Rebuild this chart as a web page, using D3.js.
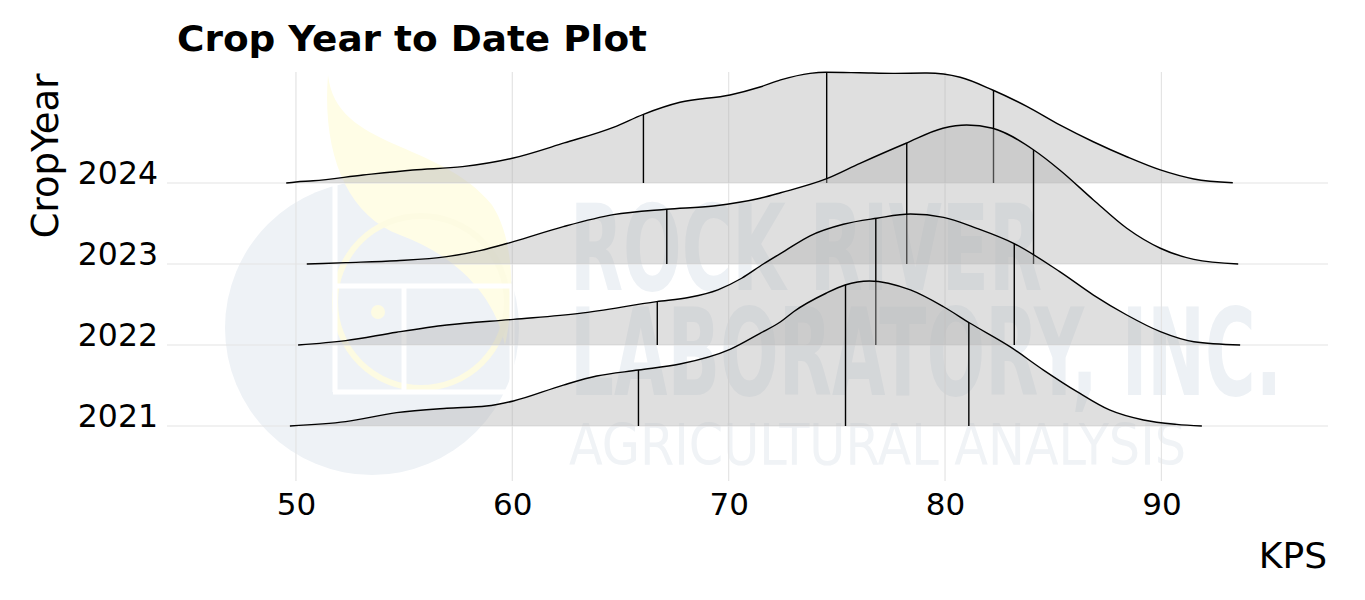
<!DOCTYPE html>
<html>
<head>
<meta charset="utf-8">
<script src="https://cdn.jsdelivr.net/npm/d3@7"></script>
<style>
  html, body { margin: 0; padding: 0; background: #ffffff; }
  svg { display: block; }
</style>
</head>
<body>
<svg id="chart" width="1365" height="600"></svg>
<script>
// ---------------- DATA ----------------
const years = ["2021", "2022", "2023", "2024"];
const xTicks = [50, 60, 70, 80, 90];

// density curves: [KPS, density]
const density2024 = [[49.55,0],[50.0,0.0007],[50.8,0.0015],[53.1,0.0053],[55.4,0.0087],[57.7,0.0109],[60.0,0.0165],[62.4,0.0267],[64.7,0.0373],[66.06,0.0458],[67.75,0.0538],[70.06,0.0587],[71.45,0.064],[72.4,0.0687],[73.76,0.0731],[74.5,0.0738],[76.07,0.0735],[77.6,0.0731],[79.16,0.0733],[80.7,0.0705],[82.2,0.062],[83.8,0.0509],[85.3,0.0387],[86.85,0.0275],[88.4,0.0175],[89.95,0.0087],[91.5,0.0027],[93.3,0.0002]];
const density2023 = [[50.5,0],[52.3,0.0009],[54.65,0.0022],[56.97,0.0049],[58.5,0.0089],[60.05,0.0149],[62.36,0.0249],[64.67,0.0329],[67.13,0.0365],[69.3,0.0387],[71.45,0.0438],[72.4,0.0475],[74.5,0.0567],[76.07,0.0671],[78.2,0.0805],[79.9,0.0905],[81.0,0.0927],[82.2,0.0905],[84.1,0.076],[85.3,0.0627],[86.86,0.0427],[88.4,0.0238],[89.95,0.0105],[91.5,0.0031],[93.55,0]];
const density2022 = [[50.1,0],[52.3,0.0029],[54.65,0.0085],[56.97,0.0133],[60.05,0.0171],[63.1,0.0211],[66.67,0.0289],[68.2,0.0318],[69.5,0.0368],[70.6,0.0445],[71.6,0.054],[72.6,0.0628],[73.76,0.0728],[75.3,0.0805],[76.85,0.0845],[78.4,0.0873],[79.93,0.0851],[81.47,0.0778],[83.17,0.0678],[85.3,0.0489],[86.86,0.0333],[88.4,0.02],[89.95,0.0089],[91.5,0.0022],[93.64,0]];
const density2021 = [[49.72,0],[52.3,0.0029],[54.65,0.0089],[56.97,0.0118],[58.8,0.0133],[60.05,0.0167],[62.36,0.0273],[63.9,0.0333],[65.83,0.0373],[67.75,0.0413],[70.06,0.0511],[71.45,0.0618],[72.4,0.0695],[73.0,0.0762],[74.5,0.0885],[75.38,0.094],[76.5,0.0967],[78.4,0.0907],[79.93,0.0795],[81.16,0.0685],[83.0,0.0529],[84.55,0.0373],[86.1,0.0229],[87.6,0.0107],[89.17,0.004],[90.7,0.0011],[91.87,0]];

// quartile lines (25%, 50%, 75%)
const quant2024 = [66.06, 74.53, 82.24];
const quant2023 = [67.14, 78.23, 84.09];
const quant2022 = [66.7, 76.8, 83.2];
const quant2021 = [65.83, 75.4, 81.1];

const series = {
  "2021": { dens: density2021, q: quant2021 },
  "2022": { dens: density2022, q: quant2022 },
  "2023": { dens: density2023, q: quant2023 },
  "2024": { dens: density2024, q: quant2024 }
};

// ---------------- LAYOUT ----------------
const svg = d3.select("#chart");
const panelLeft = 167, panelRight = 1328, panelTop = 72, panelBottom = 481;

const x = d3.scaleLinear().domain([44.04, 97.7]).range([panelLeft, panelRight]);
const yBand = d3.scalePoint().domain(years).range([426, 183]);
const h = d3.scaleLinear().domain([0, 0.1]).range([0, 150]);

const font = "'DejaVu Sans', 'Liberation Sans', sans-serif";

// ---------------- WATERMARK ----------------
const wm = svg.append("g").attr("class", "watermark");
wm.append("circle").attr("cx", 372).attr("cy", 328).attr("r", 147).attr("fill", "#eef2f6");
wm.append("path")
  .attr("d", "M328,75 C336,150 440,140 492,205 C515,240 515,300 505,345 C495,295 455,255 400,235 C345,215 322,150 328,75 Z")
  .attr("fill", "#fffde6");
wm.append("circle").attr("cx", 421).attr("cy", 302).attr("r", 86)
  .attr("fill", "none").attr("stroke", "#fdfbe2").attr("stroke-width", 6);
const frame = wm.append("g").attr("stroke", "#ffffff").attr("stroke-width", 5).attr("fill", "none");
frame.append("line").attr("x1", 335).attr("y1", 185).attr("x2", 335).attr("y2", 392);
frame.append("line").attr("x1", 333).attr("y1", 286).attr("x2", 512).attr("y2", 286);
frame.append("line").attr("x1", 333).attr("y1", 392).attr("x2", 513).attr("y2", 392);
frame.append("line").attr("x1", 404).attr("y1", 286).attr("x2", 404).attr("y2", 392);
frame.append("line").attr("x1", 512).attr("y1", 286).attr("x2", 512).attr("y2", 392);
wm.append("circle").attr("cx", 378).attr("cy", 312).attr("r", 7).attr("fill", "#fdfbe2");

const wmFont = "'DejaVu Sans Condensed', 'DejaVu Sans', sans-serif";
wm.append("text").text("ROCK RIVER")
  .attr("x", 570).attr("y", 290).attr("textLength", 472).attr("lengthAdjust", "spacingAndGlyphs")
  .attr("font-family", wmFont).attr("font-weight", "bold").attr("font-size", 120).attr("fill", "#edf1f5");
wm.append("text").text("LABORATORY, INC.")
  .attr("x", 570).attr("y", 395).attr("textLength", 712).attr("lengthAdjust", "spacingAndGlyphs")
  .attr("font-family", wmFont).attr("font-weight", "bold").attr("font-size", 121).attr("fill", "#edf1f5");
wm.append("text").text("AGRICULTURAL ANALYSIS")
  .attr("x", 569).attr("y", 465).attr("textLength", 617).attr("lengthAdjust", "spacingAndGlyphs")
  .attr("font-family", wmFont).attr("font-weight", "normal").attr("font-size", 57).attr("fill", "#f0f3f6");

// ---------------- GRID ----------------
const grid = svg.append("g").attr("class", "grid");
grid.selectAll("line.v").data(xTicks).join("line")
  .attr("class", "v")
  .attr("x1", d => x(d)).attr("x2", d => x(d))
  .attr("y1", panelTop).attr("y2", panelBottom)
  .attr("stroke", "#e4e4e4").attr("stroke-width", 1.2);
grid.selectAll("line.h").data(years).join("line")
  .attr("class", "h")
  .attr("x1", panelLeft).attr("x2", panelRight)
  .attr("y1", d => yBand(d)).attr("y2", d => yBand(d))
  .attr("stroke", "#e4e4e4").attr("stroke-width", 1.2);

// ---------------- RIDGES ----------------
const curve = d3.curveMonotoneX;
const ridges = svg.append("g").attr("class", "ridges");
const drawOrder = years.slice().reverse(); // top (2024) first, lower ridges drawn over
const defs = svg.append("defs");

drawOrder.forEach(yr => {
  const s = series[yr];
  const base = yBand(yr);
  const area = d3.area().curve(curve)
    .x(d => x(d[0])).y0(base).y1(d => base - h(d[1]));
  const line = d3.line().curve(curve)
    .x(d => x(d[0])).y(d => base - h(d[1]));

  const clipId = "clip" + yr;
  defs.append("clipPath").attr("id", clipId)
    .append("path").attr("d", area(s.dens));

  const g = ridges.append("g");
  g.append("path").attr("d", area(s.dens))
    .attr("fill", "#b3b3b3").attr("fill-opacity", 0.42).attr("stroke", "none");
  g.append("g").attr("clip-path", `url(#${clipId})`)
    .selectAll("line").data(s.q).join("line")
    .attr("x1", d => x(d)).attr("x2", d => x(d))
    .attr("y1", base).attr("y2", base - 200)
    .attr("stroke", "#000").attr("stroke-width", 1.4);
  g.append("path").attr("d", line(s.dens))
    .attr("fill", "none").attr("stroke", "#000").attr("stroke-width", 1.4);
});

// ---------------- AXES TEXT ----------------
const xAxis = d3.axisBottom(x).tickValues(xTicks).tickSize(0).tickPadding(0);
const xg = svg.append("g").attr("transform", "translate(0,515)").call(xAxis);
xg.select(".domain").remove();
xg.selectAll("text").attr("font-family", font).attr("font-size", 31).attr("fill", "#000")
  .attr("dy", 0).attr("dominant-baseline", "auto");

const yAxis = d3.axisLeft(yBand).tickSize(0).tickPadding(0);
const yg = svg.append("g").attr("transform", "translate(158,0)").call(yAxis);
yg.select(".domain").remove();
yg.selectAll("text").attr("font-family", font).attr("font-size", 31.5).attr("fill", "#000")
  .attr("dy", 0).attr("x", 0).attr("text-anchor", "end");

// titles
svg.append("text").text("Crop Year to Date Plot")
  .attr("x", 177).attr("y", 51).attr("textLength", 470).attr("lengthAdjust", "spacingAndGlyphs")
  .attr("font-family", font).attr("font-weight", "bold").attr("font-size", 36).attr("fill", "#000");
svg.append("text").text("CropYear")
  .attr("transform", "translate(58,156) rotate(-90)")
  .attr("text-anchor", "middle")
  .attr("font-family", font).attr("font-size", 37).attr("fill", "#000");
svg.append("text").text("KPS")
  .attr("x", 1327).attr("y", 568).attr("text-anchor", "end")
  .attr("font-family", font).attr("font-size", 36).attr("fill", "#000");
</script>
</body>
</html>
